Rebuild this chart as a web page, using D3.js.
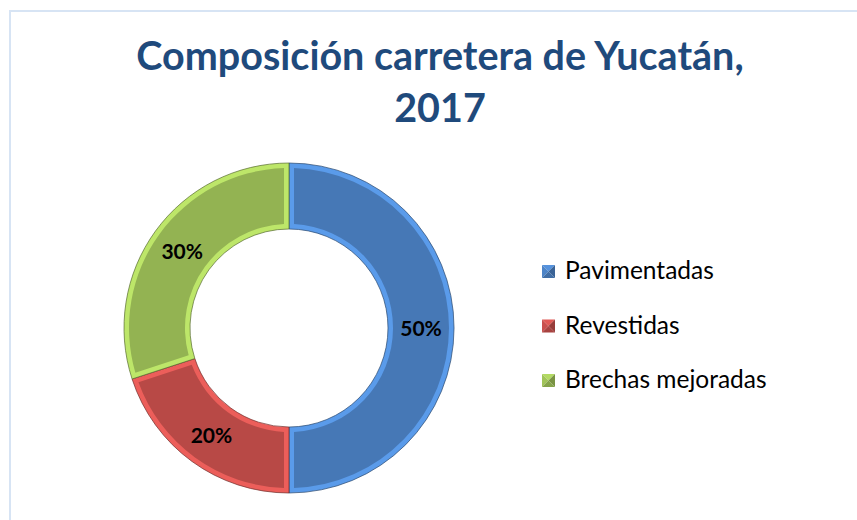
<!DOCTYPE html>
<html>
<head>
<meta charset="utf-8">
<script src="https://cdn.jsdelivr.net/npm/d3@7"></script>
<style>
  html, body { margin: 0; padding: 0; background: #ffffff; }
  svg { display: block; }
</style>
</head>
<body>
<svg id="chart" width="857" height="520"></svg>
<script>
// Road network composition, Yucatán 2017 (share of total length)
const categories = ["Pavimentadas", "Revestidas", "Brechas mejoradas"];
const shares = [50, 20, 30];
const sliceColors = ["#4a7fc0", "#c24d4a", "#9bbd56"];
const titleLines = ["Composición carretera de Yucatán,", "2017"];

const W = 857, H = 520;
const cx = 289, cy = 328;
const outerR = 165, innerR = 99;
const rim = 5;

const svg = d3.select("#chart");
const defs = svg.append("defs");

// frame around the chart area
svg.append("path")
  .attr("d", `M10,${H} L10,11 L${W},11`)
  .attr("fill", "none")
  .attr("stroke", "#d7e4f4")
  .attr("stroke-width", 2);

// title
const title = svg.append("text")
  .attr("text-anchor", "middle")
  .attr("fill", "#1f4a7c")
  .style("font-family", "Lato, 'Open Sans', sans-serif")
  .style("font-weight", "bold")
  .style("font-size", "39.5px");
title.selectAll("tspan")
  .data(titleLines)
  .join("tspan")
  .attr("x", 440)
  .attr("y", (d, i) => 70 + i * 52)
  .text(d => d);

const pie = d3.pie().sort(null).value(d => d);
const arcs = pie(shares);

// bevel gradients: lit from top-left, shaded to bottom-right
sliceColors.forEach((c, i) => {
  const g = defs.append("linearGradient")
    .attr("id", "bevel" + i)
    .attr("gradientUnits", "userSpaceOnUse")
    .attr("x1", cx - outerR).attr("y1", cy - outerR)
    .attr("x2", cx + outerR).attr("y2", cy + outerR);
  g.append("stop").attr("offset", "0%").attr("stop-color", d3.color(c).brighter(0.55));
  g.append("stop").attr("offset", "50%").attr("stop-color", d3.color(c).brighter(0.1));
  g.append("stop").attr("offset", "100%").attr("stop-color", d3.color(c).darker(0.8));

  const f = defs.append("radialGradient")
    .attr("id", "face" + i)
    .attr("gradientUnits", "userSpaceOnUse")
    .attr("cx", cx).attr("cy", cy).attr("r", outerR);
  f.append("stop").attr("offset", innerR / outerR).attr("stop-color", d3.color(c).darker(0.2));
  f.append("stop").attr("offset", (innerR + outerR) / 2 / outerR).attr("stop-color", c);
  f.append("stop").attr("offset", "1").attr("stop-color", d3.color(c).darker(0.15));
});

const donut = svg.append("g").attr("transform", `translate(${cx},${cy})`);

const outerArc = d3.arc().innerRadius(innerR).outerRadius(outerR);
const faceArc = d3.arc()
  .innerRadius(innerR + rim)
  .outerRadius(outerR - rim)
  .padAngle(2 * rim / ((innerR + outerR) / 2))
  .padRadius((innerR + outerR) / 2);

donut.selectAll("path.rim")
  .data(arcs)
  .join("path")
  .attr("class", "rim")
  .attr("d", outerArc)
  .attr("fill", (d, i) => `url(#bevel${i})`)
  .attr("stroke", (d, i) => d3.color(sliceColors[i]).darker(1.6))
  .attr("stroke-width", 0.7);

donut.selectAll("path.face")
  .data(arcs)
  .join("path")
  .attr("class", "face")
  .attr("d", faceArc)
  .attr("fill", (d, i) => `url(#face${i})`);

// value labels at the ring centroid
const labelArc = d3.arc().innerRadius(innerR).outerRadius(outerR);
donut.selectAll("text.value")
  .data(arcs)
  .join("text")
  .attr("class", "value")
  .attr("transform", d => `translate(${labelArc.centroid(d)})`)
  .attr("dy", "0.4em")
  .attr("text-anchor", "middle")
  .attr("fill", "#000000")
  .style("font-family", "Lato, 'Open Sans', sans-serif")
  .style("font-weight", "bold")
  .style("font-size", "21px")
  .text(d => d.data + "%");

// legend with pyramid-shaded keys
const legend = svg.append("g");
const rowY = d3.scalePoint().domain(categories).range([279, 388]);
const key = 13;
categories.forEach((name, i) => {
  const baseY = rowY(name);
  const x0 = 542, y0 = baseY - 14, c = d3.color(sliceColors[i]);
  const mx = x0 + key / 2, my = y0 + key / 2;
  const tri = [
    [[x0, y0], [x0 + key, y0], [mx, my], c.brighter(0.4)],
    [[x0, y0], [x0, y0 + key], [mx, my], c.brighter(0.1)],
    [[x0 + key, y0], [x0 + key, y0 + key], [mx, my], c.darker(0.7)],
    [[x0, y0 + key], [x0 + key, y0 + key], [mx, my], c.darker(0.4)]
  ];
  tri.forEach(t => {
    legend.append("path")
      .attr("d", `M${t[0]}L${t[1]}L${t[2]}Z`)
      .attr("fill", t[3]);
  });
  legend.append("text")
    .attr("x", 565)
    .attr("y", baseY)
    .attr("fill", "#000000")
    .style("font-family", "Lato, 'Open Sans', sans-serif")
    .style("font-size", "24.5px")
    .text(name);
});
</script>
</body>
</html>
